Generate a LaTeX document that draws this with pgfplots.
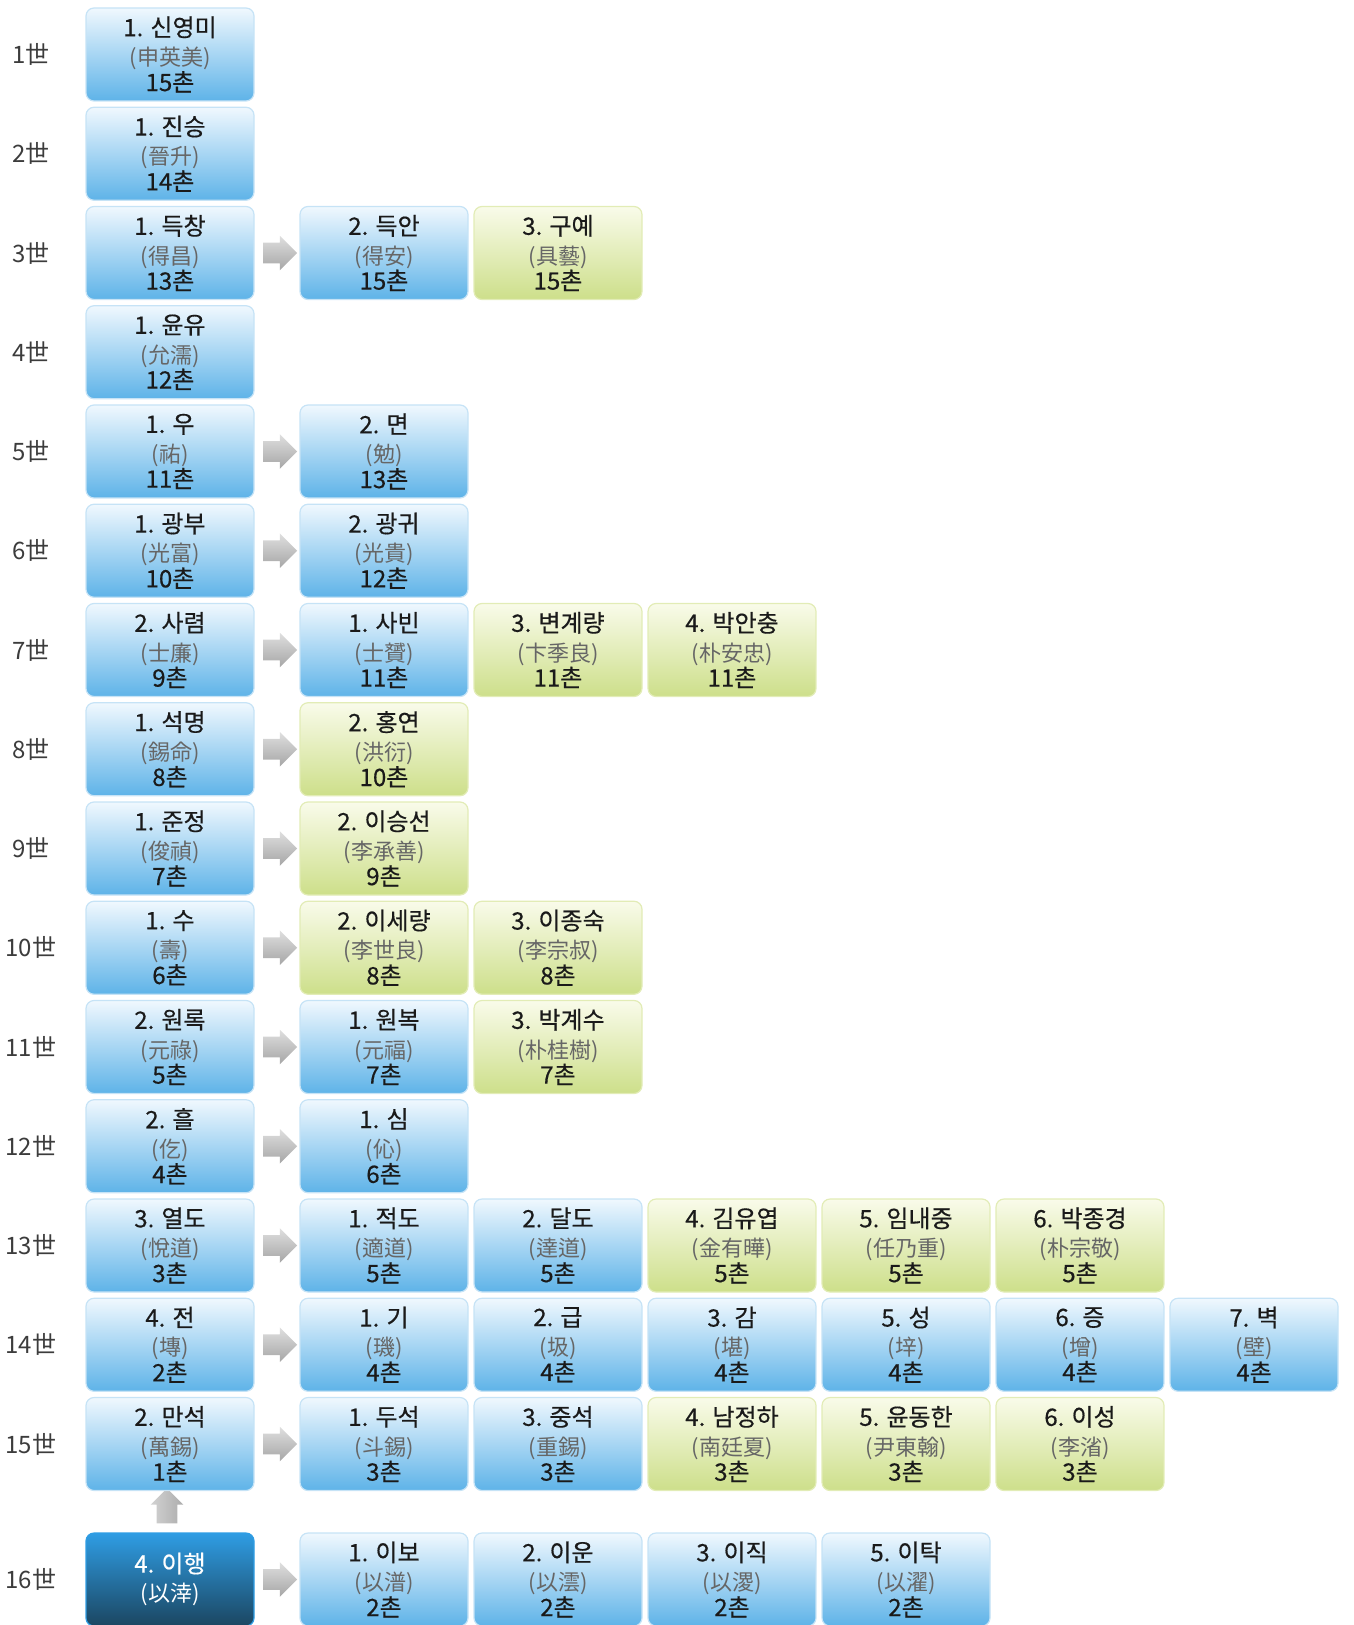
\documentclass[border=0pt]{standalone}
\usepackage{fontspec}
\setmainfont{Noto Sans CJK KR}
\newfontfamily\nmfont{Noto Sans CJK KR}[FakeBold=0.45]
\usepackage{pgfplots}
\usepackage{pgfplotstable}
\pgfplotsset{compat=1.18}
\usetikzlibrary{shapes.arrows}

\definecolor{btop}{HTML}{F0F8FE}
\definecolor{bmid}{HTML}{B4DBF5}
\definecolor{bbot}{HTML}{5EB3E8}
\definecolor{bline}{HTML}{C6E3F6}
\definecolor{gtop}{HTML}{F9FBEA}
\definecolor{gmid}{HTML}{E9F1C4}
\definecolor{gbot}{HTML}{CDDF8A}
\definecolor{gline}{HTML}{E2ECB6}
\definecolor{dtop}{HTML}{2F9DE4}
\definecolor{dmid}{HTML}{2672A8}
\definecolor{dbot}{HTML}{1B4661}
\definecolor{txt}{HTML}{1A1A1A}
\definecolor{hjc}{HTML}{666666}
\definecolor{gen}{HTML}{3C3C3C}

% 1 px of the reference = 0.5pt
\tikzset{
  box/.style={rectangle, rounded corners=4pt, minimum width=84pt, minimum height=46.5pt,
    inner sep=0pt, align=center, line width=0.6pt, text=txt,
    font=\nmfont\fontsize{12}{13.2}\selectfont},
  bluebox/.style={box, draw=bline, top color=btop, middle color=bmid, bottom color=bbot},
  greenbox/.style={box, draw=gline, top color=gtop, middle color=gmid, bottom color=gbot},
  darkbox/.style={box, draw=dtop, top color=dtop, middle color=dmid, bottom color=dbot, text=white},
  garrow/.style={single arrow, inner sep=0pt, text height=10pt, text depth=0pt, text width=0pt,
    minimum height=17pt, single arrow head extend=3.5pt, draw=none,
    top color=gray!25, bottom color=gray!70},
  uparrow/.style={single arrow, shape border rotate=90, inner sep=0pt, text height=0pt,
    text depth=0pt, text width=10pt, minimum height=17.5pt, single arrow head extend=3pt,
    draw=none, left color=gray!35, right color=gray!65},
}
% box text: name, hanja, chon
\protected\def\bx#1#2#3{#1\\[1.5pt]{\color{hjc}\rmfamily\fontsize{11}{13.2}\selectfont(#2)}\\[-0.5pt]#3}
\protected\def\dx#1#2{#1\\[1.5pt]{\rmfamily\fontsize{11}{13.2}\selectfont(#2)}}

% x, y in reference pixels (box centres)
\pgfplotstableread{
x y lab
170 54.5 {\bx{1. 신영미}{申英美}{15촌}}
170 153.75 {\bx{1. 진승}{晉升}{14촌}}
170 253 {\bx{1. 득창}{得昌}{13촌}}
384 253 {\bx{2. 득안}{得安}{15촌}}
170 352.25 {\bx{1. 윤유}{允濡}{12촌}}
170 451.5 {\bx{1. 우}{祐}{11촌}}
384 451.5 {\bx{2. 면}{勉}{13촌}}
170 550.75 {\bx{1. 광부}{光富}{10촌}}
384 550.75 {\bx{2. 광귀}{光貴}{12촌}}
170 650 {\bx{2. 사렴}{士廉}{9촌}}
384 650 {\bx{1. 사빈}{士贇}{11촌}}
170 749.25 {\bx{1. 석명}{錫命}{8촌}}
170 848.5 {\bx{1. 준정}{俊禎}{7촌}}
170 947.75 {\bx{1. 수}{壽}{6촌}}
170 1047 {\bx{2. 원록}{元祿}{5촌}}
384 1047 {\bx{1. 원복}{元福}{7촌}}
170 1146.25 {\bx{2. 흘}{仡}{4촌}}
384 1146.25 {\bx{1. 심}{伈}{6촌}}
170 1245.5 {\bx{3. 열도}{悅道}{3촌}}
384 1245.5 {\bx{1. 적도}{適道}{5촌}}
558 1245.5 {\bx{2. 달도}{達道}{5촌}}
170 1344.75 {\bx{4. 전}{塼}{2촌}}
384 1344.75 {\bx{1. 기}{璣}{4촌}}
558 1344.75 {\bx{2. 급}{圾}{4촌}}
732 1344.75 {\bx{3. 감}{堪}{4촌}}
906 1344.75 {\bx{5. 성}{垶}{4촌}}
1080 1344.75 {\bx{6. 증}{增}{4촌}}
1254 1344.75 {\bx{7. 벽}{壁}{4촌}}
170 1444 {\bx{2. 만석}{萬錫}{1촌}}
384 1444 {\bx{1. 두석}{斗錫}{3촌}}
558 1444 {\bx{3. 중석}{重錫}{3촌}}
384 1579.5 {\bx{1. 이보}{以潽}{2촌}}
558 1579.5 {\bx{2. 이운}{以澐}{2촌}}
732 1579.5 {\bx{3. 이직}{以溭}{2촌}}
906 1579.5 {\bx{5. 이탁}{以濯}{2촌}}
}\bluetab

\pgfplotstableread{
x y lab
558 253 {\bx{3. 구예}{具藝}{15촌}}
558 650 {\bx{3. 변계량}{卞季良}{11촌}}
732 650 {\bx{4. 박안충}{朴安忠}{11촌}}
384 749.25 {\bx{2. 홍연}{洪衍}{10촌}}
384 848.5 {\bx{2. 이승선}{李承善}{9촌}}
384 947.75 {\bx{2. 이세량}{李世良}{8촌}}
558 947.75 {\bx{3. 이종숙}{李宗叔}{8촌}}
558 1047 {\bx{3. 박계수}{朴桂樹}{7촌}}
732 1245.5 {\bx{4. 김유엽}{金有曄}{5촌}}
906 1245.5 {\bx{5. 임내중}{任乃重}{5촌}}
1080 1245.5 {\bx{6. 박종경}{朴宗敬}{5촌}}
732 1444 {\bx{4. 남정하}{南廷夏}{3촌}}
906 1444 {\bx{5. 윤동한}{尹東翰}{3촌}}
1080 1444 {\bx{6. 이성}{李渻}{3촌}}
}\greentab

\pgfplotstableread{
x y lab
170 1579.5 {\dx{4. 이행}{以涬}}
}\darktab

\pgfplotstableread{
x y lab
31 54.5 1世
31 153.75 2世
31 253 3世
31 352.25 4世
31 451.5 5世
31 550.75 6世
31 650 7世
31 749.25 8世
31 848.5 9世
31 947.75 10世
31 1047 11世
31 1146.25 12世
31 1245.5 13世
31 1344.75 14世
31 1444 15世
31 1579.5 16世
}\gentab

\begin{document}
\begin{tikzpicture}
\begin{axis}[
  hide axis, scale only axis,
  width=676.5pt, height=812.5pt,
  xmin=0, xmax=1353, ymin=0, ymax=1625,
  y dir=reverse, clip=false,
  nodes near coords align={center},
]
% generation labels
\addplot[draw=none, mark=none, point meta=explicit symbolic,
  nodes near coords,
  every node near coord/.append style={anchor=center, text=gen, inner sep=0pt,
    font=\fontsize{12}{13.2}\selectfont}]
  table[x=x, y=y, meta=lab] {\gentab};

% right arrows
\addplot[draw=none, mark=none, nodes near coords={\relax},
  every node near coord/.append style={anchor=center, garrow}]
  coordinates {(275,253) (275,451.5) (275,550.75) (275,650) (275,749.25) (275,848.5)
    (275,947.75) (275,1047) (275,1146.25) (275,1245.5) (275,1344.75) (275,1444) (275,1579.5)};
% up arrow
\addplot[draw=none, mark=none, nodes near coords={\relax},
  every node near coord/.append style={anchor=center, uparrow}]
  coordinates {(167,1511)};

\addplot[draw=none, mark=none, point meta=explicit symbolic, nodes near coords,
  every node near coord/.append style={anchor=center, bluebox}]
  table[x=x, y=y, meta=lab] {\bluetab};

\addplot[draw=none, mark=none, point meta=explicit symbolic, nodes near coords,
  every node near coord/.append style={anchor=center, greenbox}]
  table[x=x, y=y, meta=lab] {\greentab};

\addplot[draw=none, mark=none, point meta=explicit symbolic, nodes near coords,
  every node near coord/.append style={anchor=center, darkbox}]
  table[x=x, y=y, meta=lab] {\darktab};
\end{axis}
\pgfresetboundingbox
\useasboundingbox (current axis.south west) rectangle (current axis.north east);
\end{tikzpicture}
\end{document}
